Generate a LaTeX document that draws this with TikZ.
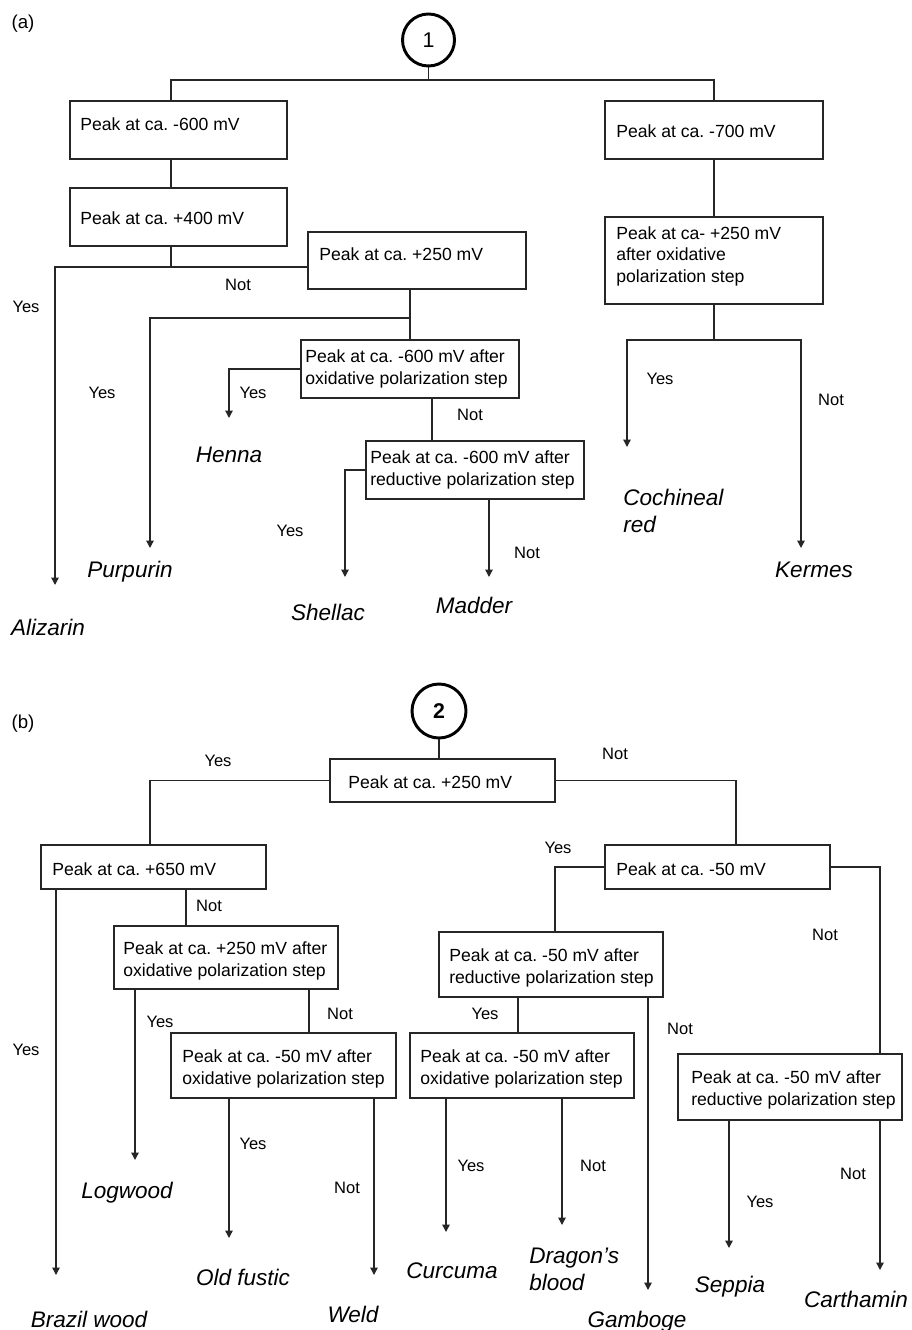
\documentclass[tikz,border=0pt]{standalone}
\usepackage{fontspec}
\setmainfont{Liberation Sans}
\usetikzlibrary{arrows.meta,fit}
\frenchspacing
\begin{document}
\begin{tikzpicture}[x=0.75pt,y=-0.75pt,
  ln/.style={draw=black!85, line width=1pt},
  ar/.style={ln, -{Triangle[width=5.5pt,length=5.5pt]}},
  boxst/.style={draw=black!85, line width=1.1pt, inner sep=0pt, rectangle},
  btxt/.style={inner sep=0pt, anchor=base west, align=left, font=\fontsize{13.2pt}{16.1pt}\selectfont},
  lbl/.style={inner sep=0pt, anchor=base, font=\fontsize{12.4pt}{15pt}\selectfont},
  dye/.style={inner sep=0pt, anchor=base, font=\fontsize{16.9pt}{20.25pt}\selectfont\itshape},
  dyel/.style={dye, anchor=base west, align=left},
  circ/.style={circle, draw, line width=2.2pt, minimum size=52*0.75pt, inner sep=0pt, font=\fontsize{16pt}{18pt}\selectfont}]
\useasboundingbox (0,0) rectangle (911,1330);

% ---------------- (a) ----------------
\node[lbl, font=\fontsize{14pt}{16pt}\selectfont] (la) at (23,29) {(a)};
\node[circ] (c1) at (428.5,40) {1};

\node[boxst, fit={(70,101) (287,159)}] (A1) {};
\node[btxt] (A1t) at (80,131) {Peak at ca. -600 mV};
\node[boxst, fit={(70,188) (287,246)}] (A2) {};
\node[btxt] (A2t) at (80,224) {Peak at ca. +400 mV};
\node[boxst, fit={(308,232) (526,289)}] (A3) {};
\node[btxt] (A3t) at (319,261) {Peak at ca. +250 mV};
\node[boxst, fit={(301,340) (519,398)}] (A4) {};
\node[btxt] (A4t) at (305,384) {Peak at ca. -600 mV after\\oxidative polarization step};
\node[boxst, fit={(366,441) (584,499)}] (A5) {};
\node[btxt] (A5t) at (370,485) {Peak at ca. -600 mV after\\reductive polarization step};
\node[boxst, fit={(605,101) (823,159)}] (B1) {};
\node[btxt] (B1t) at (616,138) {Peak at ca. -700 mV};
\node[boxst, fit={(605,217) (823,304)}] (B2) {};
\node[btxt] (B2t) at (616,282) {Peak at ca- +250 mV\\after oxidative\\polarization step};

\coordinate (t1) at (428.5,80);
\coordinate (xa) at (171,0);
\draw[ln] (c1) -- (t1);
\draw[ln] (A1.north -| xa) |- (t1) -| (B1.north);
\draw[ln] (A1.south -| xa) -- (A2.north -| xa);
\coordinate (j2) at (171,267);
\draw[ln] (A2.south -| xa) -- (j2);
\coordinate (eAliz) at (55,585);
\draw[ar] (A3.west |- j2) -| (eAliz);
\coordinate (j3) at (410,318);
\draw[ln] (A3.south -| A4.north) -- (A4.north);
\coordinate (ePurp) at (150,548);
\draw[ar] (j3) -| (ePurp);
\coordinate (eHenna) at (229,418);
\draw[ar] (A4.west) -| (eHenna);
\coordinate (xb) at (432,0);
\draw[ln] (A4.south -| xb) -- (A5.north -| xb);
\coordinate (eShel) at (345,577);
\draw[ar] (A5.west) -| (eShel);
\coordinate (eMadd) at (489,577);
\draw[ar] (A5.south -| eMadd) -- (eMadd);
\draw[ln] (B1) -- (B2);
\coordinate (j4) at (714,340);
\draw[ln] (B2) -- (j4);
\coordinate (eCoch) at (627,447);
\coordinate (eKerm) at (801,548);
\draw[ar] (j4) -| (eCoch);
\draw[ar] (j4) -| (eKerm);

\node[lbl] (l1) at (238,290) {Not};
\node[lbl] (l2) at (26,312) {Yes};
\node[lbl] (l3) at (102,398) {Yes};
\node[lbl] (l4) at (253,398) {Yes};
\node[lbl] (l5) at (470,420) {Not};
\node[lbl] (l6) at (290,536) {Yes};
\node[lbl] (l7) at (527,558) {Not};
\node[lbl] (l8) at (660,384) {Yes};
\node[lbl] (l9) at (831,405) {Not};

\node[dye] (dAliz) at (48,635) {Alizarin};
\node[dye] (dPurp) at (130,577) {Purpurin};
\node[dye] (dHenna) at (229,462) {Henna};
\node[dye] (dShel) at (328,620) {Shellac};
\node[dye] (dMadd) at (474,613) {Madder};
\node[dyel] (dCoch) at (623,532) {Cochineal\\red};
\node[dye] (dKerm) at (814,577) {Kermes};

% ---------------- (b) ----------------
\node[lbl, font=\fontsize{14pt}{16pt}\selectfont] (lb) at (23,728) {(b)};
\node[circ, minimum size=54*0.75pt] (c2) at (439,711) {\textbf{2}};

\node[boxst, fit={(330,759) (555,802)}] (C1) {};
\node[btxt] (C1t) at (348,788) {Peak at ca. +250 mV};
\node[boxst, fit={(41,845) (266,889)}] (C2) {};
\node[btxt] (C2t) at (52,875) {Peak at ca. +650 mV};
\node[boxst, fit={(605,845) (830,889)}] (C3) {};
\node[btxt] (C3t) at (616,875) {Peak at ca. -50 mV};
\node[boxst, fit={(114,926) (338,989)}] (C4) {};
\node[btxt] (C4t) at (123,976) {Peak at ca. +250 mV after\\oxidative polarization step};
\node[boxst, fit={(439,932) (663,997)}] (C5) {};
\node[btxt] (C5t) at (449,983) {Peak at ca. -50 mV after\\reductive polarization step};
\node[boxst, fit={(171,1033) (396,1098)}] (C6) {};
\node[btxt] (C6t) at (182,1084) {Peak at ca. -50 mV after\\oxidative polarization step};
\node[boxst, fit={(678,1054) (902,1120)}] (C7) {};
\node[btxt] (C7t) at (691,1105) {Peak at ca. -50 mV after\\reductive polarization step};
\node[boxst, fit={(410,1033) (634,1098)}] (C8) {};
\node[btxt] (C8t) at (420,1084) {Peak at ca. -50 mV after\\oxidative polarization step};

\draw[ln] (c2) -- (C1.north -| c2);
\coordinate (xc) at (150,0);
\draw[ln] (C1.west) -| (C2.north -| xc);
\coordinate (xd) at (736,0);
\draw[ln] (C1.east) -| (C3.north -| xd);
\coordinate (eBraz) at (56,1275);
\draw[ar] (C2.south -| eBraz) -- (eBraz);
\coordinate (xe) at (186,0);
\draw[ln] (C2.south -| xe) -- (C4.north -| xe);
\coordinate (eLog) at (135,1160);
\draw[ar] (C4.south -| eLog) -- (eLog);
\coordinate (xf) at (309,0);
\draw[ln] (C4.south -| xf) -- (C6.north -| xf);
\coordinate (eOld) at (229,1238);
\coordinate (eWeld) at (374,1275);
\draw[ar] (C6.south -| eOld) -- (eOld);
\draw[ar] (C6.south -| eWeld) -- (eWeld);
\coordinate (xg) at (555,0);
\draw[ln] (C3.west) -| (C5.north -| xg);
\coordinate (xh) at (880,0);
\draw[ln] (C3.east) -| (C7.north -| xh);
\coordinate (xi) at (518,0);
\draw[ln] (C5.south -| xi) -- (C8.north -| xi);
\coordinate (eGamb) at (648,1290);
\draw[ar] (C5.south -| eGamb) -- (eGamb);
\coordinate (eCurc) at (446,1232);
\coordinate (eDrag) at (562,1225);
\draw[ar] (C8.south -| eCurc) -- (eCurc);
\draw[ar] (C8.south -| eDrag) -- (eDrag);
\coordinate (eSepp) at (729,1248);
\coordinate (eCart) at (880,1270);
\draw[ar] (C7.south -| eSepp) -- (eSepp);
\draw[ar] (C7.south -| eCart) -- (eCart);

\node[lbl] (m1) at (218,766) {Yes};
\node[lbl] (m2) at (615,759) {Not};
\node[lbl] (m3) at (209,911) {Not};
\node[lbl] (m4) at (26,1055) {Yes};
\node[lbl] (m5) at (160,1027) {Yes};
\node[lbl] (m6) at (340,1019) {Not};
\node[lbl] (m7) at (253,1149) {Yes};
\node[lbl] (m8) at (347,1193) {Not};
\node[lbl] (m9) at (558,853) {Yes};
\node[lbl] (m10) at (825,940) {Not};
\node[lbl] (m11) at (485,1019) {Yes};
\node[lbl] (m12) at (680,1034) {Not};
\node[lbl] (m13) at (471,1171) {Yes};
\node[lbl] (m14) at (593,1171) {Not};
\node[lbl] (m15) at (760,1207) {Yes};
\node[lbl] (m16) at (853,1179) {Not};

\node[dye] (dBraz) at (89,1327) {Brazil wood};
\node[dye] (dLog) at (127,1198) {Logwood};
\node[dye] (dOld) at (243,1285) {Old fustic};
\node[dye] (dWeld) at (353,1322) {Weld};
\node[dye] (dCurc) at (452,1278) {Curcuma};
\node[dyel] (dDrag) at (529,1290) {Dragon’s\\blood};
\node[dye] (dGamb) at (637,1327) {Gamboge};
\node[dye] (dSepp) at (730,1292) {Seppia};
\node[dye] (dCart) at (856,1307) {Carthamin};
\end{tikzpicture}
\end{document}
